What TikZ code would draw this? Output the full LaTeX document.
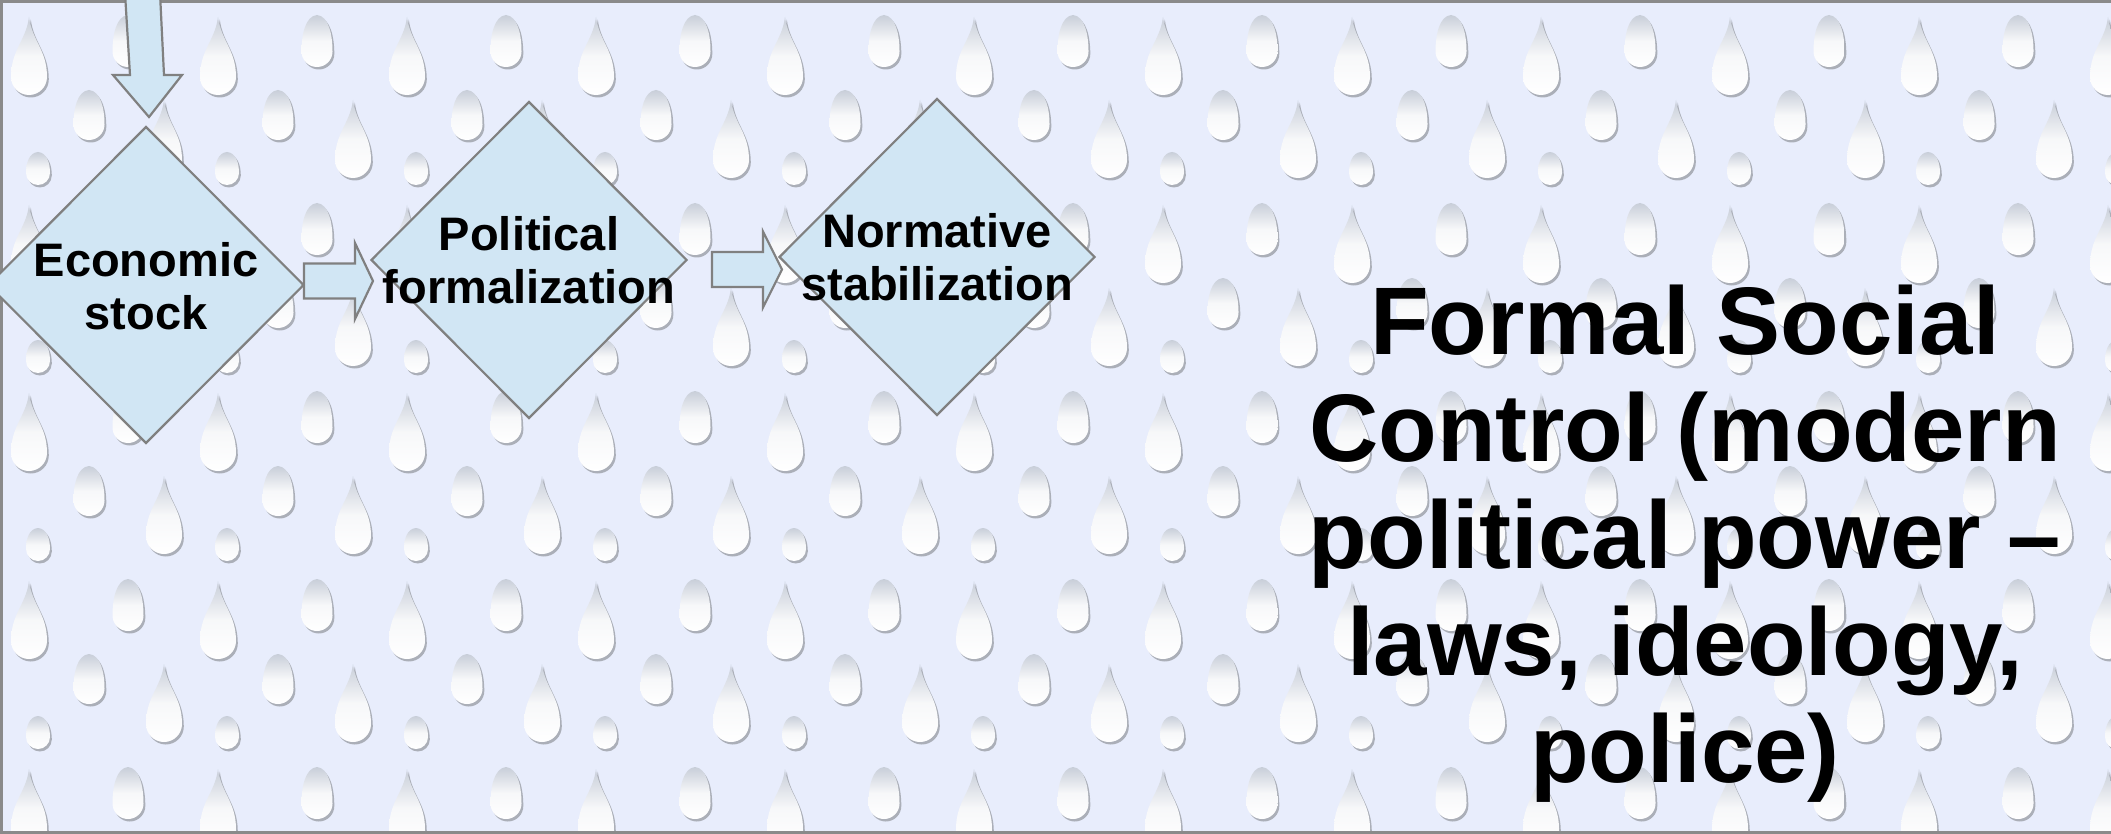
\documentclass[tikz,border=0pt]{standalone}
\usepackage{fontspec}
\setmainfont{Liberation Sans}
\usetikzlibrary{shapes.geometric}
\definecolor{bgcol}{HTML}{E8EDFC}
\definecolor{boxfill}{HTML}{D1E6F4}
\definecolor{boxline}{HTML}{808080}
\definecolor{dropshade}{HTML}{ABAFB8}
\definecolor{droptop}{HTML}{C8CED9}
\definecolor{framecol}{HTML}{8A8A8A}
% drop outline: cx, top, width, height, k1, k2
\newcommand\droppath[6]{(#1,#2) .. controls ({#1+#5*#3},{#2+#6*#4}) and ({#1+0.5*#3},{#2+#4-0.5*#3-0.45*(#4-0.5*#3)}) .. ({#1+0.5*#3},{#2+#4-0.5*#3}) .. controls ({#1+0.5*#3},{#2+#4-0.5*#3+0.276*#3}) and ({#1+0.276*#3},{#2+#4}) .. ({#1},{#2+#4}) .. controls ({#1-0.276*#3},{#2+#4}) and ({#1-0.5*#3},{#2+#4-0.5*#3+0.276*#3}) .. ({#1-0.5*#3},{#2+#4-0.5*#3}) .. controls ({#1-0.5*#3},{#2+#4-0.5*#3-0.45*(#4-0.5*#3)}) and ({#1-#5*#3},{#2+#6*#4}) .. (#1,#2) -- cycle}
\newcommand\raindrop[6]{%
  \path[dropshadow,xshift=1.8pt,yshift=-2.5pt] \droppath{#1}{#2}{#3}{#4}{#5}{#6};
  \path[dropbody] \droppath{#1}{#2}{#3}{#4}{#5}{#6};}
\tikzset{
  dropshadow/.style={fill=dropshade},
  dropbody/.style={top color=droptop, bottom color=white, middle color=white!85!droptop},
  diamondbox/.style={diamond, draw=boxline, fill=boxfill, line width=2.2pt, inner sep=0pt, minimum width=316pt, minimum height=317pt},
  boxtext/.style={font=\fontsize{47}{53}\selectfont\bfseries, align=center, inner sep=0pt},
  titletext/.style={font=\fontsize{96}{107}\selectfont\bfseries, align=center, inner sep=0pt},
  blockarrow/.style={draw=boxline, fill=boxfill, line width=2.2pt, line join=miter},
}
\begin{document}
\begin{tikzpicture}[x=1pt, y={(0pt,-1pt)}]
\useasboundingbox (0,0) rectangle (2111,834);
\fill[bgcol] (0,0) rectangle (2111,834);
\begin{scope}
\clip (0,0) rectangle (2111,834);
\foreach \i in {-1,...,11}{
  \foreach \j in {0,...,4}{
    \pgfmathsetmacro\X{29+189*\i}
    \pgfmathsetmacro\Y{17+188*\j}
    \raindrop{\X}{\Y}{36}{78}{0.08}{0.3}
    \raindrop{\X+99}{\Y-2}{31}{52}{0.38}{0.02}
    \raindrop{\X+60}{\Y+73}{31}{50}{0.38}{0.02}
    \raindrop{\X+135}{\Y+83}{36}{78}{0.08}{0.3}
    \raindrop{\X+9}{\Y+135}{24}{33}{0.38}{0.02}
  }
}
\end{scope}
% frame
\draw[framecol, line width=3pt] (0,1.5) -- (2111,1.5);
\draw[framecol, line width=3pt] (1,0) -- (1,834);
\draw[framecol, line width=3pt] (0,832.5) -- (2111,832.5);
% diamonds
\node[diamondbox] (econ) at (146,285) {};
\node[diamondbox] (pol) at (529,260) {};
\node[diamondbox] (norm) at (937,257) {};
% arrows
\coordinate (a0tip) at (149,117);
\coordinate (a1tail) at (304,281);
\coordinate (a2tail) at (712,269.5);
\path[blockarrow, shift={(a0tip)}] (-24,-124) -- (-19,-42) -- (-36,-42) -- (0,0) -- (33,-42) -- (15,-42) -- (11,-124) -- cycle;
\path[blockarrow, shift={(a1tail)}] (0,-17.5) -- (51,-17.5) -- (51,-38) -- (69,0) -- (51,38) -- (51,17.5) -- (0,17.5) -- cycle;
\path[blockarrow, shift={(a2tail)}] (0,-17.5) -- (51,-17.5) -- (51,-38) -- (70,0) -- (51,38) -- (51,17.5) -- (0,17.5) -- cycle;
% texts
\node[boxtext] (econtext) at ([yshift=-1pt]econ.center) {Economic\\stock};
\node[boxtext] (poltext) at (pol.center) {Political\\formalization};
\node[boxtext] (normtext) at (norm.center) {Normative\\stabilization};
\node[titletext] (title) at (1685,544) {Formal Social\\Control (modern\\political power –\\laws, ideology,\\police)};
\end{tikzpicture}
\end{document}
